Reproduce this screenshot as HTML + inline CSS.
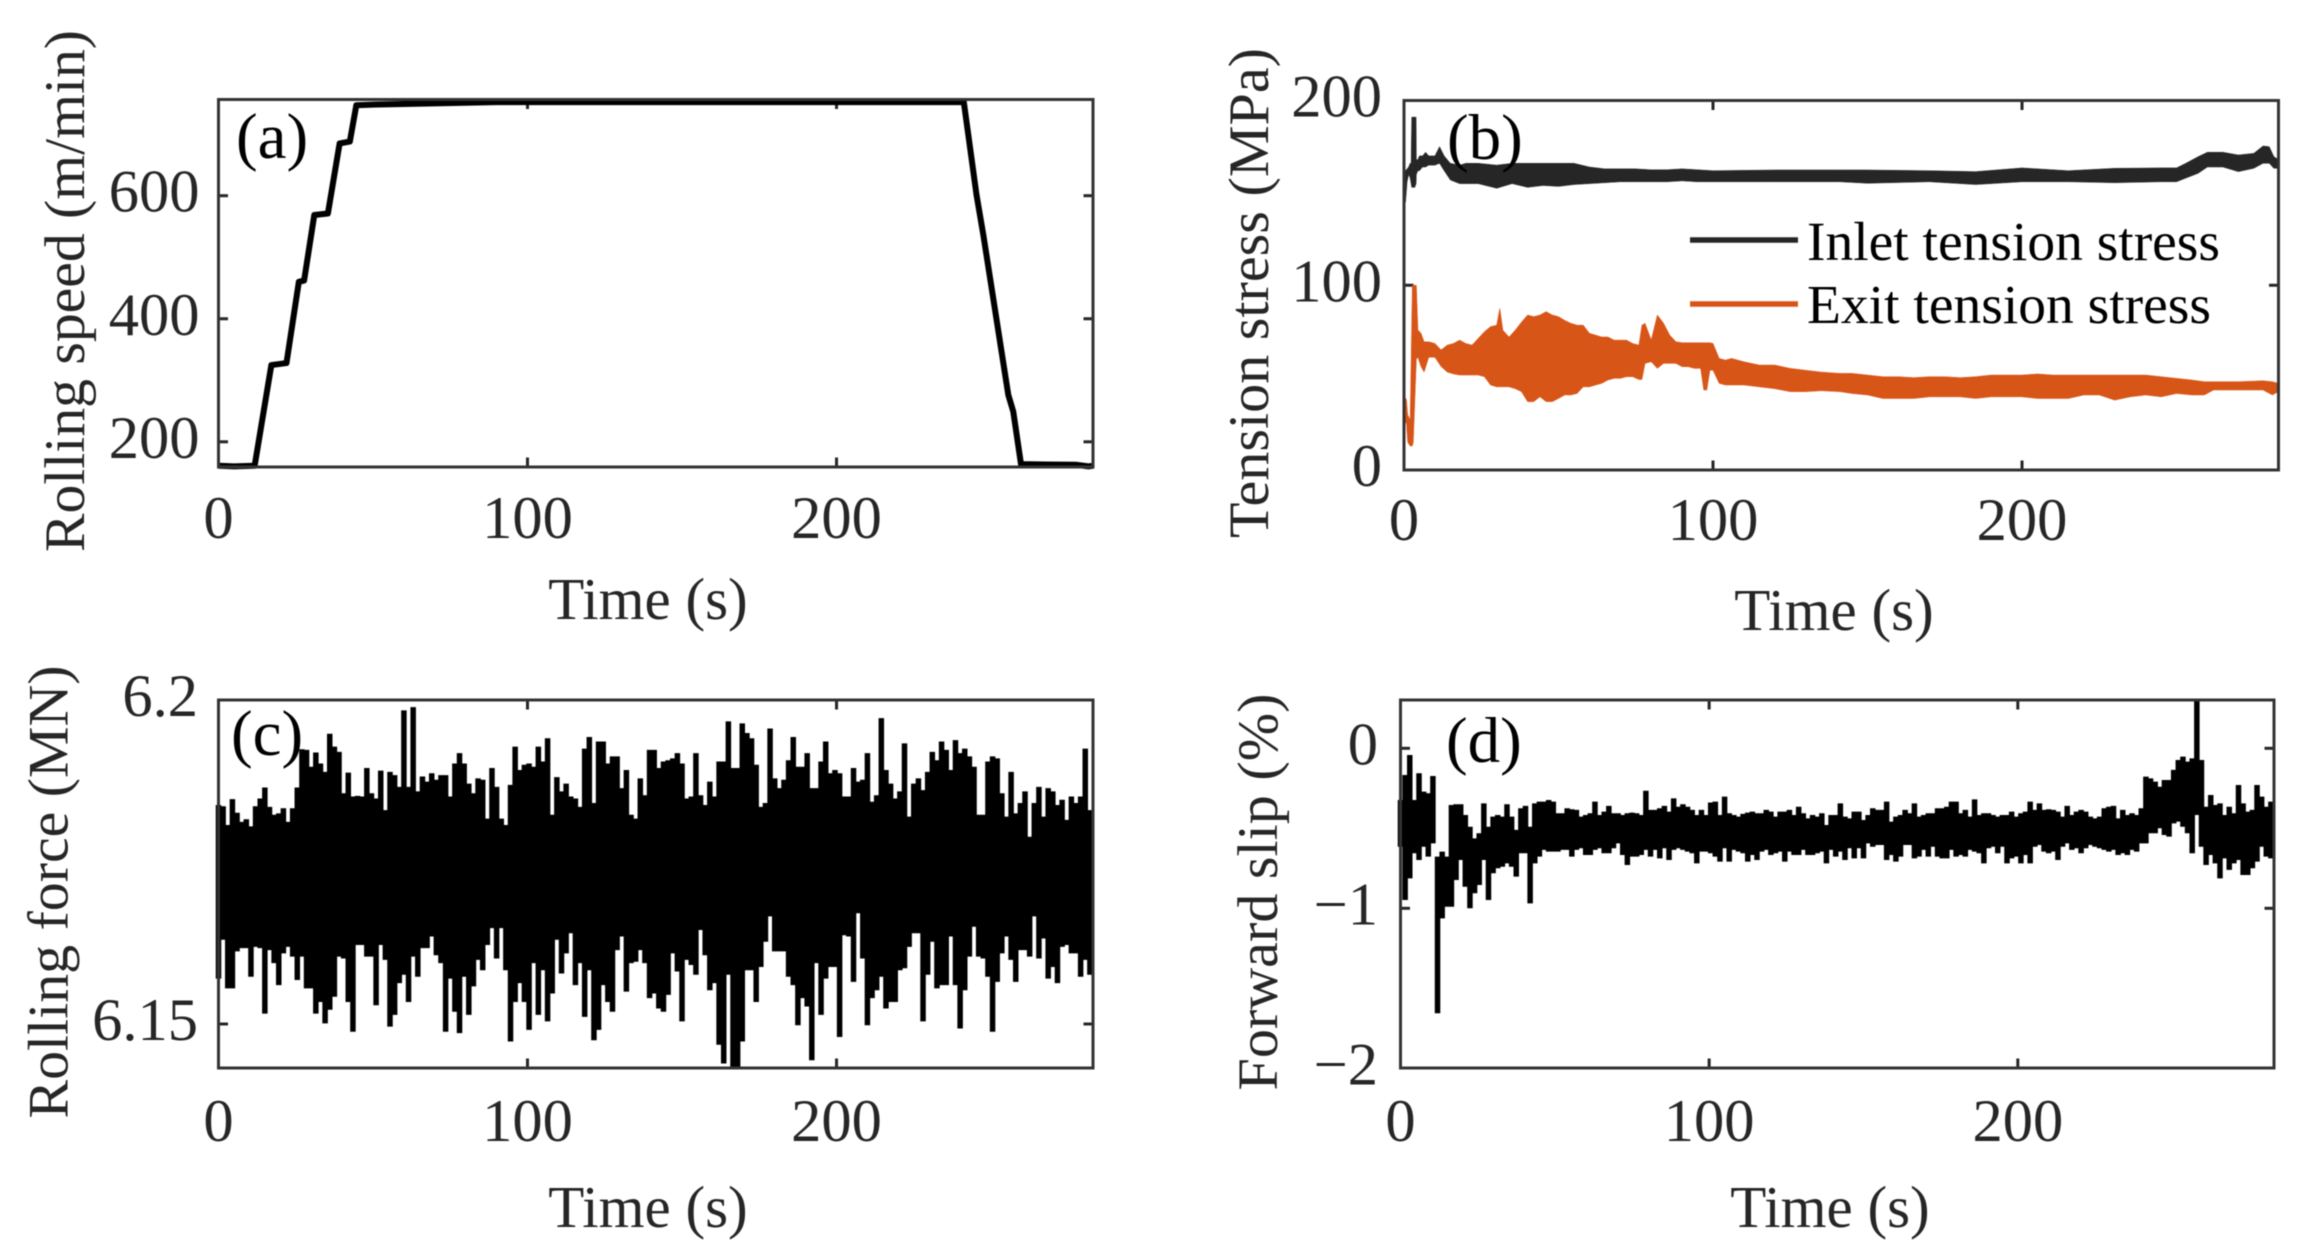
<!DOCTYPE html>
<html lang="en">
<head>
<meta charset="utf-8">
<title>Rolling process time series</title>
<style>
html,body{margin:0;padding:0;background:#fff;}
svg{display:block;filter:blur(0.6px);}
text{font-family:"Liberation Serif","Times New Roman",serif;fill:#262626;}
</style>
</head>
<body>
<svg id="figure" width="2305" height="1258" viewBox="0 0 2305 1258" xmlns="http://www.w3.org/2000/svg">
<rect x="0" y="0" width="2305" height="1258" fill="#ffffff"/>
<g id="panel-a"></g>
<g id="panel-b"></g>
<g id="panel-c"></g>
<g id="panel-d"></g>
</svg>
<script>
const timeTicks = [0, 100, 200];
const timeTickLabels = ['0', '100', '200'];
const speedTicks = [200, 400, 600];
const speedTickLabels = ['200', '400', '600'];
const tensionTicks = [0, 100, 200];
const tensionTickLabels = ['0', '100', '200'];
const forceTicks = [6.15, 6.2];
const forceTickLabels = ['6.15', '6.2'];
const slipTicks = [-2, -1, 0];
const slipTickLabels = ['\u22122', '\u22121', '0'];

const speedTime = [0, 5, 11.7, 17.1, 22, 26, 27.7, 31, 35.4, 39.2, 42.5, 44.6, 50, 60, 70, 90, 120, 160, 200, 241.2, 245.3, 247.5, 255.6, 257.2, 259.7, 268, 277.7, 281.5, 283];
const speedValues = [161, 160, 161, 324.7, 328, 460, 462, 568.6, 571, 685, 688, 747, 748, 749, 750, 752, 752, 752, 752, 752, 601.6, 536.6, 276, 249, 163.7, 163, 162.6, 160, 161];

const inletTime = [0, 0.5, 1, 1.5, 2, 2.3, 2.5, 3, 3.5, 3.9, 4, 4.5, 5, 6, 7, 8, 10, 11.5, 13, 15, 18, 20, 22, 24, 30, 35, 40, 45, 50, 55, 60, 65, 70, 75, 80, 85, 90, 95, 100, 120, 141, 150, 170, 185, 200, 215, 230, 245, 250, 253, 257, 260, 265, 270, 275, 278, 280, 281.5, 283];
const inletUpper = [160, 162, 163, 164, 166, 166, 191, 191, 191, 191, 168, 168, 170, 170, 172, 170, 170, 175, 170, 166, 165, 166, 166, 166, 165, 166, 166, 166, 166, 166, 164, 163, 163, 163, 162.5, 162.5, 163, 162.5, 162, 162.4, 162.4, 162.4, 162, 161.5, 163.5, 162, 163.3, 163.5, 163.5, 166, 169.6, 172, 172, 170.5, 171.4, 175.4, 175, 169.6, 168];
const inletLower = [144, 145, 156, 160, 158, 155, 153, 153, 153, 155, 160, 162, 162, 164, 164, 165, 165, 166, 162, 157, 155, 155, 155, 155, 152.5, 155, 153, 154, 153.5, 154.5, 155, 155.5, 156, 156, 156, 156, 156.5, 156, 156, 156, 156, 155.2, 156, 154.5, 156, 156, 155.5, 156, 156, 158, 160.6, 164, 164, 161.5, 163.3, 166, 166, 163.3, 163.3];

const exitTime = [0, 0.8, 1.2, 2, 2.7, 3, 4, 4.5, 5.5, 6.5, 8, 10, 12, 14, 16, 18, 20, 22, 24, 26, 28, 30, 31, 32, 34, 36, 38, 40, 42, 44, 46, 48, 50, 52, 54, 56, 58, 60, 62, 64, 66, 68, 70, 72, 74, 76, 77, 78, 80, 82, 84, 86, 88, 90, 92, 94, 96, 97, 98, 99, 100, 102, 104, 106, 110, 115, 120, 125, 130, 135, 141, 145, 150, 155, 160, 165, 170, 175, 180, 185, 190, 195, 200, 205, 210, 215, 220, 225, 230, 235, 240, 245, 250, 255, 259, 262, 270, 278, 281, 283];
const exitUpper = [40.5, 38, 30, 27, 100, 100, 100, 75.8, 74, 69.4, 69.4, 68.5, 65, 67.6, 68.5, 70.3, 68.5, 67.6, 71.2, 74.8, 77.6, 78.4, 87.5, 75.7, 72, 75.7, 80, 83.9, 83, 83.9, 85.7, 83.9, 83, 81, 79.4, 78.4, 78.4, 74, 73, 72, 72, 70.3, 70.3, 70.3, 68.5, 67.6, 78.4, 79.4, 70.3, 83.9, 79.4, 73, 69.4, 68.9, 68.9, 68.9, 68.9, 68.9, 68.9, 68.9, 68.5, 60.4, 59.5, 60.4, 58.6, 56.8, 56.8, 55, 54, 53, 52.3, 52.3, 51.4, 50.5, 50.5, 50, 50.5, 50.5, 50, 50.5, 51.4, 51.4, 51.4, 52, 51.4, 51.4, 51.4, 51.4, 51.4, 51.4, 51.4, 50.5, 49.6, 48.7, 47.8, 47.8, 47.8, 48.3, 47.8, 46.9];
const exitLower = [28, 25, 15, 13, 13, 15, 60, 61, 56, 53, 61, 61, 56, 53, 52, 51.4, 51.4, 51.4, 51.4, 50.5, 46, 45, 45, 45, 45, 44, 42.4, 37, 37, 39.6, 37, 37, 38.7, 40.6, 40.6, 41.4, 45, 45, 46, 46.9, 48.7, 49.6, 49.6, 50.5, 50.5, 49, 49, 57.7, 58.6, 55, 57.7, 57.7, 57.7, 55.9, 55.9, 55, 55, 43.3, 43.3, 54, 54, 46.9, 46, 46, 46, 45, 44, 42.4, 42.4, 42.9, 42.4, 41.4, 40.6, 38.7, 38.7, 38.7, 39.6, 39.6, 39.6, 38.7, 39.6, 39.6, 39.6, 38.7, 38.7, 38.7, 40.6, 40.6, 37.8, 39.6, 40.6, 39.6, 41.4, 40.6, 40.6, 43.3, 43.3, 43.3, 40.6, 42.4];

const binSeconds = 1.5;

const forceUpper = [
6.1838,6.1836,6.1807,6.1847,6.1826,6.1812,6.1816,6.1805,6.1836,6.1848,
6.1865,6.1835,6.1823,6.1825,6.1833,6.1812,6.1833,6.1865,6.1924,6.1923,
6.1897,6.1919,6.1902,6.1889,6.1948,6.1928,6.1920,6.1856,6.1888,6.1851,
6.1852,6.1851,6.1895,6.1856,6.1848,6.1891,6.1830,6.1889,6.1884,6.1866,
6.1984,6.1866,6.1989,6.1859,6.1882,6.1874,6.1887,6.1877,6.1884,6.1884,
6.1851,6.1902,6.1918,6.1902,6.1871,6.1856,6.1879,6.1877,6.1817,6.1895,
6.1866,6.1817,6.1807,6.1869,6.1928,6.1892,6.1900,6.1902,6.1897,6.1928,
6.1905,6.1941,6.1823,6.1881,6.1859,6.1871,6.1851,6.1848,6.1835,6.1925,
6.1943,6.1841,6.1936,6.1936,6.1902,6.1913,6.1913,6.1864,6.1892,6.1823,
6.1817,6.1879,6.1853,6.1923,6.1923,
6.1895,6.1905,6.1907,6.1910,6.1918,6.1902,6.1848,6.1851,6.1918,6.1853,
6.1838,6.1874,6.1851,6.1905,6.1905,6.1967,6.1895,6.1895,6.1964,6.1949,
6.1941,6.1900,6.1835,6.1841,6.1956,6.1879,6.1864,6.1877,6.1907,6.1943,
6.1897,6.1897,6.1918,6.1864,6.1864,6.1905,6.1936,6.1887,6.1892,6.1887,
6.1851,6.1851,6.1895,6.1874,6.1877,6.1918,6.1843,6.1853,6.1972,6.1892,
6.1871,6.1848,6.1859,6.1933,6.1820,6.1871,6.1879,6.1861,6.1889,6.1920,
6.1907,6.1936,6.1923,6.1892,6.1938,6.1918,6.1925,6.1913,6.1897,6.1823,
6.1823,6.1905,6.1913,6.1910,6.1856,6.1820,6.1889,6.1825,6.1841,6.1859,
6.1789,6.1841,6.1866,6.1820,6.1864,6.1859,6.1838,6.1846,6.1815,6.1851,
6.1841,6.1851,6.1925,6.1830
];
const forceLower = [
6.1570,6.1630,6.1555,6.1555,6.1612,6.1617,6.1617,6.1573,6.1619,6.1617,
6.1516,6.1614,6.1594,6.1560,6.1609,6.1619,6.1604,6.1568,6.1604,6.1555,
6.1555,6.1516,6.1534,6.1501,6.1522,6.1542,6.1604,6.1601,6.1534,6.1488,
6.1622,6.1622,6.1604,6.1604,6.1529,6.1622,6.1599,6.1496,6.1514,6.1563,
6.1576,6.1534,6.1604,6.1573,6.1617,6.1617,6.1635,6.1606,6.1594,6.1488,
6.1570,6.1519,6.1486,6.1573,6.1514,6.1558,6.1599,6.1583,6.1622,6.1648,
6.1601,6.1648,6.1583,6.1473,6.1534,6.1563,6.1534,6.1491,6.1594,6.1514,
6.1583,6.1504,6.1547,6.1630,6.1578,6.1609,6.1640,6.1560,6.1594,6.1511,
6.1583,6.1475,6.1491,6.1560,6.1534,6.1519,6.1614,6.1635,6.1550,6.1594,
6.1596,6.1614,6.1594,6.1540,6.1547,
6.1524,6.1519,6.1545,6.1609,6.1581,6.1504,6.1599,6.1591,6.1576,6.1645,
6.1606,6.1552,6.1563,6.1468,6.1439,6.1576,6.1434,6.1432,6.1473,6.1583,
6.1583,6.1534,6.1588,6.1627,6.1666,6.1612,6.1612,6.1612,6.1573,6.1560,
6.1498,6.1540,6.1527,6.1444,6.1594,6.1514,6.1570,6.1588,6.1588,6.1480,
6.1637,6.1635,6.1565,6.1671,6.1601,6.1498,6.1540,6.1552,6.1573,6.1524,
6.1534,6.1534,6.1583,6.1586,6.1619,6.1640,6.1640,6.1504,6.1576,6.1627,
6.1555,6.1560,6.1560,6.1635,6.1560,6.1493,6.1552,6.1604,6.1650,6.1604,
6.1601,6.1573,6.1488,6.1565,6.1609,6.1635,6.1599,6.1565,6.1614,6.1614,
6.1604,6.1666,6.1601,6.1632,6.1570,6.1588,6.1563,6.1619,6.1622,6.1609,
6.1609,6.1573,6.1599,6.1576
];

const slipUpper = [
-0.323,-0.167,-0.042,-0.323,-0.156,-0.271,-0.281,-0.173,-0.677,-0.646,
-0.677,-0.354,-0.350,-0.350,-0.417,-0.490,-0.563,-0.531,-0.344,-0.490,
-0.427,-0.417,-0.427,-0.350,-0.427,-0.510,-0.375,-0.360,-0.490,-0.344,
-0.333,-0.333,-0.323,-0.333,-0.406,-0.406,-0.375,-0.381,-0.385,-0.427,
-0.417,-0.406,-0.333,-0.417,-0.396,-0.360,-0.406,-0.406,-0.417,-0.406,
-0.402,-0.406,-0.417,-0.265,-0.385,-0.385,-0.375,-0.360,-0.396,-0.313,
-0.365,-0.350,-0.365,-0.385,-0.417,-0.385,-0.417,-0.339,-0.333,-0.417,
-0.302,-0.406,-0.417,-0.427,-0.410,-0.402,-0.396,-0.406,-0.406,-0.385,
-0.396,-0.427,-0.396,-0.396,-0.385,-0.417,-0.365,-0.406,-0.438,-0.417,
-0.427,-0.406,-0.479,-0.417,
-0.417,-0.344,-0.427,-0.438,-0.396,-0.396,-0.448,-0.417,-0.375,-0.385,
-0.385,-0.333,-0.458,-0.427,-0.417,-0.385,-0.406,-0.344,-0.427,-0.417,
-0.406,-0.406,-0.375,-0.375,-0.365,-0.333,-0.333,-0.406,-0.385,-0.427,
-0.319,-0.417,-0.406,-0.406,-0.417,-0.427,-0.417,-0.417,-0.396,-0.427,
-0.406,-0.396,-0.333,-0.385,-0.344,-0.385,-0.381,-0.385,-0.396,-0.427,
-0.360,-0.417,-0.396,-0.385,-0.396,-0.427,-0.438,-0.427,-0.375,-0.365,
-0.360,-0.438,-0.385,-0.417,-0.406,-0.417,-0.375,-0.177,-0.188,-0.208,
-0.240,-0.198,-0.198,-0.135,-0.073,-0.052,-0.083,-0.063,0.300,-0.073,
-0.365,-0.292,-0.354,-0.344,-0.417,-0.365,-0.406,-0.229,-0.344,-0.396,
-0.385,-0.229,-0.302,-0.365,-0.333
];
const slipLower = [
-0.615,-0.948,-0.813,-0.656,-0.698,-0.615,-0.677,-0.594,-1.656,-1.063,
-0.990,-0.990,-0.823,-0.698,-0.865,-1.000,-0.906,-0.854,-0.698,-0.948,
-0.781,-0.750,-0.740,-0.719,-0.740,-0.802,-0.656,-0.656,-0.969,-0.719,
-0.677,-0.635,-0.646,-0.646,-0.646,-0.635,-0.635,-0.677,-0.635,-0.625,
-0.667,-0.667,-0.635,-0.625,-0.656,-0.656,-0.625,-0.594,-0.667,-0.729,
-0.677,-0.677,-0.667,-0.635,-0.677,-0.635,-0.688,-0.625,-0.698,-0.635,
-0.625,-0.635,-0.646,-0.656,-0.719,-0.646,-0.646,-0.656,-0.677,-0.708,
-0.625,-0.708,-0.635,-0.646,-0.656,-0.708,-0.667,-0.698,-0.646,-0.635,
-0.667,-0.656,-0.646,-0.708,-0.646,-0.667,-0.667,-0.635,-0.667,-0.667,
-0.656,-0.646,-0.719,-0.635,
-0.677,-0.646,-0.698,-0.625,-0.688,-0.625,-0.688,-0.594,-0.615,-0.604,
-0.604,-0.698,-0.667,-0.708,-0.677,-0.604,-0.604,-0.688,-0.677,-0.635,
-0.677,-0.615,-0.677,-0.688,-0.688,-0.635,-0.677,-0.667,-0.677,-0.635,
-0.646,-0.656,-0.719,-0.625,-0.615,-0.656,-0.615,-0.719,-0.688,-0.677,
-0.719,-0.667,-0.719,-0.615,-0.604,-0.646,-0.656,-0.646,-0.698,-0.615,
-0.594,-0.635,-0.625,-0.656,-0.625,-0.604,-0.615,-0.625,-0.635,-0.646,
-0.635,-0.667,-0.656,-0.667,-0.635,-0.646,-0.594,-0.594,-0.531,-0.531,
-0.500,-0.542,-0.552,-0.469,-0.458,-0.490,-0.531,-0.656,-0.417,-0.615,
-0.729,-0.667,-0.719,-0.813,-0.688,-0.760,-0.719,-0.698,-0.792,-0.792,
-0.750,-0.708,-0.615,-0.677,-0.688
];

const SVG_NS = 'http://www.w3.org/2000/svg';
const INK = '#262626';

function make(parent, tag, attrs, name, interactable) {
  const el = document.createElementNS(SVG_NS, tag);
  for (const key in attrs) el.setAttribute(key, attrs[key]);
  
  
  parent.appendChild(el);
  return el;
}

function label(parent, x, y, str, size, anchor, name, extra) {
  const attrs = Object.assign({x: x, y: y, 'font-size': size, 'text-anchor': anchor}, extra || {});
  const el = make(parent, 'text', attrs, name, 'false');
  el.textContent = str;
  return el;
}

function linear(d0, d1, r0, r1) {
  return function (v) { return r0 + (v - d0) * (r1 - r0) / (d1 - d0); };
}

function drawAxes(g, o) {
  const fr = o.frame;
  const sx = o.sx, sy = o.sy;
  const tickLen = 9.5;
  o.xTicks.forEach(function (t, i) {
    const x = sx(t);
    if (t > o.xDomain[0]) {
      make(g, 'line', {x1: x, x2: x, y1: fr.bottom, y2: fr.bottom - tickLen, stroke: INK, 'stroke-width': 3}, 'x-tick-bottom', 'false');
      make(g, 'line', {x1: x, x2: x, y1: fr.top, y2: fr.top + tickLen, stroke: INK, 'stroke-width': 3}, 'x-tick-top', 'false');
    }
    label(g, x, o.xLabelBase, o.xLabels[i], 60.5, 'middle', 'x-tick-label');
  });
  o.yTicks.forEach(function (v, i) {
    const y = sy(v);
    if (y > fr.top + 1 && y < fr.bottom - 1) {
      make(g, 'line', {x1: fr.left, x2: fr.left + tickLen, y1: y, y2: y, stroke: INK, 'stroke-width': 3}, 'y-tick-left', 'false');
      make(g, 'line', {x1: fr.right, x2: fr.right - tickLen, y1: y, y2: y, stroke: INK, 'stroke-width': 3}, 'y-tick-right', 'false');
    }
    label(g, o.yLabelRight, y + 16, o.yLabels[i], 60.5, 'end', 'y-tick-label');
  });
  label(g, o.xTitle.x, o.xTitle.y, 'Time (s)', 59, 'middle', 'x-axis-title');
  label(g, 0, 0, o.yTitle.text, 57, 'middle', 'y-axis-title', {
    transform: 'translate(' + o.yTitle.x + ' ' + o.yTitle.y + ') rotate(-90)',
    textLength: o.yTitle.length,
    lengthAdjust: 'spacingAndGlyphs'
  });
}

function drawFrame(g, fr) {
  make(g, 'rect', {x: fr.left, y: fr.top, width: fr.right - fr.left, height: fr.bottom - fr.top, fill: 'none', stroke: '#333333', 'stroke-width': 3}, 'plot-frame', 'false');
}

function drawPanelLabel(g, x, y, str) {
  label(g, x, y, str, 65, 'start', 'panel-label', {style: 'fill:#000'});
}

function linePath(times, values, sx, sy) {
  return times.map(function (t, i) { return (i ? 'L' : 'M') + sx(t).toFixed(2) + ' ' + sy(values[i]).toFixed(2); }).join('');
}

function bandPath(times, upper, lower, sx, sy) {
  let d = '';
  times.forEach(function (t, i) { d += (i ? 'L' : 'M') + sx(t).toFixed(2) + ' ' + sy(upper[i]).toFixed(2); });
  for (let i = times.length - 1; i >= 0; i--) d += 'L' + sx(times[i]).toFixed(2) + ' ' + sy(lower[i]).toFixed(2);
  return d + 'Z';
}

function barsPath(upper, lower, step, sx, sy) {
  let d = '';
  const n = Math.min(upper.length, lower.length);
  for (let i = 0; i < n; i++) {
    const x = sx(i * step).toFixed(2);
    d += 'M' + x + ' ' + sy(upper[i]).toFixed(2) + 'L' + x + ' ' + sy(lower[i]).toFixed(2);
  }
  return d;
}

const T_MAX = 283;

/* panel a */
(function () {
  const g = document.getElementById('panel-a');
  const fr = {left: 218.5, right: 1093, top: 99.5, bottom: 467};
  const sx = linear(0, T_MAX, fr.left, fr.right);
  const sy = linear(200, 600, 441.8, 195.7);
  drawAxes(g, {frame: fr, sx: sx, sy: sy, xDomain: [0, T_MAX], xTicks: timeTicks, xLabels: timeTickLabels, yTicks: speedTicks, yLabels: speedTickLabels,
    xLabelBase: 538, yLabelRight: 199.5, xTitle: {x: 648, y: 619}, yTitle: {text: 'Rolling speed (m/min)', x: 84, y: 291, length: 522}});
  make(g, 'path', {d: linePath(speedTime, speedValues, sx, sy), fill: 'none', stroke: '#000', 'stroke-width': 6, 'stroke-linejoin': 'round'}, 'rolling-speed-line', 'false');
  drawFrame(g, fr);
  drawPanelLabel(g, 236, 158, '(a)');
})();

/* panel b */
(function () {
  const g = document.getElementById('panel-b');
  const fr = {left: 1404, right: 2278.5, top: 100.5, bottom: 470};
  const sx = linear(0, T_MAX, fr.left, fr.right);
  const sy = linear(0, 200, fr.bottom, fr.top);
  drawAxes(g, {frame: fr, sx: sx, sy: sy, xDomain: [0, T_MAX], xTicks: timeTicks, xLabels: timeTickLabels, yTicks: tensionTicks, yLabels: tensionTickLabels,
    xLabelBase: 540, yLabelRight: 1382, xTitle: {x: 1834, y: 630}, yTitle: {text: 'Tension stress (MPa)', x: 1268, y: 293, length: 490}});
  make(g, 'path', {d: bandPath(inletTime, inletUpper, inletLower, sx, sy), fill: '#262626', stroke: '#262626', 'stroke-width': 0.5}, 'inlet-tension-series', 'false');
  make(g, 'path', {d: bandPath(exitTime, exitUpper, exitLower, sx, sy), fill: '#D85518', stroke: '#D85518', 'stroke-width': 0.5}, 'exit-tension-series', 'false');
  drawFrame(g, fr);
  drawPanelLabel(g, 1447, 159, '(b)');
  const legend = make(g, 'g', {}, 'legend', 'false');
  make(legend, 'line', {x1: 1690, x2: 1798, y1: 240, y2: 240, stroke: '#262626', 'stroke-width': 5.5}, 'legend-line-inlet', 'false');
  make(legend, 'line', {x1: 1690, x2: 1798, y1: 304, y2: 304, stroke: '#D85518', 'stroke-width': 5.5}, 'legend-line-exit', 'false');
  label(legend, 1807, 260, 'Inlet tension stress', 55, 'start', 'legend-entry-inlet', {style: 'fill:#000', textLength: 413, lengthAdjust: 'spacingAndGlyphs'});
  label(legend, 1807, 323, 'Exit tension stress', 55, 'start', 'legend-entry-exit', {style: 'fill:#000', textLength: 404, lengthAdjust: 'spacingAndGlyphs'});
})();

/* panel c */
(function () {
  const g = document.getElementById('panel-c');
  const fr = {left: 218.5, right: 1093, top: 700, bottom: 1068};
  const sx = linear(0, T_MAX, fr.left, fr.right);
  const sy = linear(6.15, 6.2, 1024, 700);
  drawAxes(g, {frame: fr, sx: sx, sy: sy, xDomain: [0, T_MAX], xTicks: timeTicks, xLabels: timeTickLabels, yTicks: forceTicks, yLabels: forceTickLabels,
    xLabelBase: 1141, yLabelRight: 198, xTitle: {x: 648, y: 1227}, yTitle: {text: 'Rolling force (MN)', x: 67.5, y: 892, length: 453}});
  make(g, 'path', {d: barsPath(forceUpper, forceLower, binSeconds, sx, sy), fill: 'none', stroke: '#000', 'stroke-width': 5.5}, 'rolling-force-series', 'false');
  drawFrame(g, fr);
  drawPanelLabel(g, 231, 755, '(c)');
})();

/* panel d */
(function () {
  const g = document.getElementById('panel-d');
  const fr = {left: 1400.5, right: 2274, top: 700, bottom: 1068};
  const sx = linear(0, T_MAX, fr.left, fr.right);
  const sy = linear(-1, 0, 908.3, 748.3);
  drawAxes(g, {frame: fr, sx: sx, sy: sy, xDomain: [0, T_MAX], xTicks: timeTicks, xLabels: timeTickLabels, yTicks: slipTicks, yLabels: slipTickLabels,
    xLabelBase: 1141, yLabelRight: 1378, xTitle: {x: 1830, y: 1227}, yTitle: {text: 'Forward slip (%)', x: 1277, y: 892, length: 397}});
  make(g, 'path', {d: barsPath(slipUpper, slipLower, binSeconds, sx, sy), fill: 'none', stroke: '#000', 'stroke-width': 5.5}, 'forward-slip-series', 'false');
  drawFrame(g, fr);
  drawPanelLabel(g, 1446, 762, '(d)');
})();
</script>
</body>
</html>
